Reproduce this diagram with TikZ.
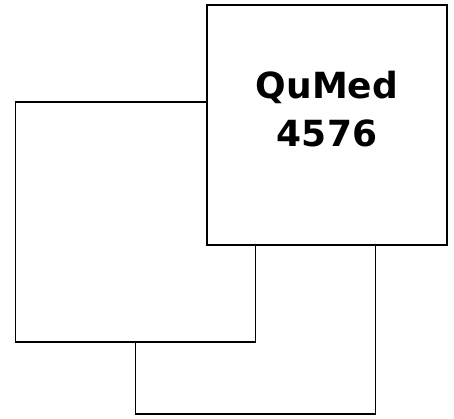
\documentclass[tikz,border=0pt]{standalone}
\usepackage{fontspec}
\newfontfamily\labelfont{DejaVu Sans}

\tikzset{
  sq/.style={draw=black, fill=white, line width=1.6pt, inner sep=0pt,
    minimum width=240pt, minimum height=240pt},
}

\begin{document}
\begin{tikzpicture}[x=1pt,y=1pt,yscale=-1,xscale=1]
\useasboundingbox (0,0) rectangle (454,418);

%Square: back
\node [sq] (back) at (255.5,294) {};
%Square: left
\node [sq] (left) at (135.5,222) {};
%Square: front
\node [sq] (front) at (327,125) {};

% Text Node
\node [align=center, inner sep=0pt, font=\labelfont\bfseries\fontsize{36}{48}\selectfont]
  (title) at (327,109) {QuMed\\4576};

\end{tikzpicture}
\end{document}
